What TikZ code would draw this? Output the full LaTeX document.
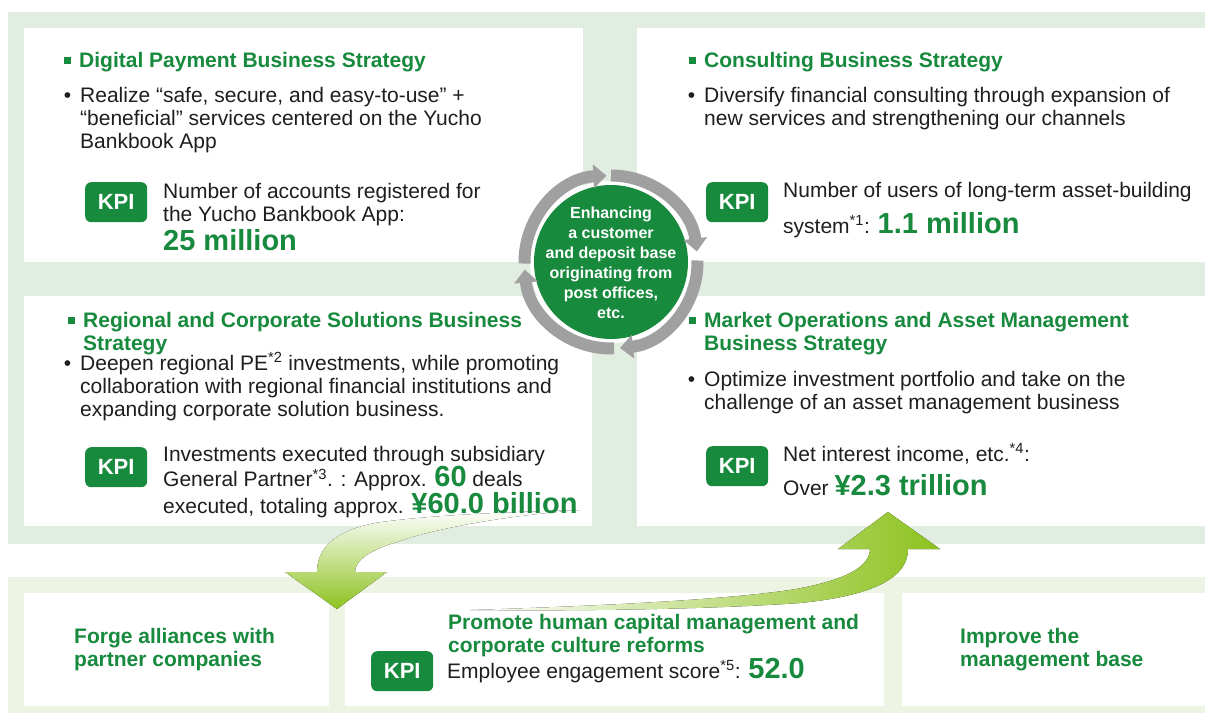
\documentclass[tikz,border=0pt]{standalone}
\usepackage{fontspec}
\setmainfont{Liberation Sans}
\usetikzlibrary{arrows.meta}

\definecolor{kgreen}{RGB}{24,138,62}
\definecolor{agreen}{RGB}{141,194,31}
\definecolor{bgtop}{RGB}{226,237,225}
\definecolor{bgbot}{RGB}{238,244,228}
\definecolor{ringgray}{RGB}{160,160,160}
\definecolor{txt}{RGB}{30,30,30}

\newcommand{\bignum}[1]{{\color{kgreen}\bfseries\fontsize{29}{29}\selectfont #1}}
\newcommand{\sqbul}{\llap{\rule[3pt]{7pt}{7pt}\hspace{8pt}}}
\newcommand{\dotbul}{\llap{•\hspace{9pt}}}

\begin{document}
\begin{tikzpicture}[x=1pt,y=-1pt,
    panel/.style={fill=white, inner sep=0pt, anchor=north west},
    kpi/.style={fill=kgreen, rounded corners=6pt, text=white,
      font=\bfseries\fontsize{22}{24}\selectfont,
      minimum width=62pt, minimum height=40pt, inner sep=0pt, anchor=north west},
    head/.style={text=kgreen, font=\bfseries\fontsize{21}{23}\selectfont,
      align=left, anchor=base west, inner sep=0pt},
    body/.style={text=txt, font=\fontsize{21}{23}\selectfont,
      align=left, anchor=base west, inner sep=0pt},
    hubtxt/.style={text=white, font=\bfseries\fontsize{16}{20}\selectfont,
      align=center, inner sep=0pt},
    ring/.style={draw=ringgray, line width=12pt, -{Triangle[width=23pt,length=13pt]}},
    arrowA/.style={top color=white, middle color=agreen!55, bottom color=agreen},
    arrowB/.style={left color=white, middle color=agreen!35, right color=agreen}]
\useasboundingbox (0,0) rectangle (1205,713);
\fill[white] (0,0) rectangle (1205,713);
% backgrounds
\fill[bgtop] (8,12) rectangle (1205,544);
\fill[bgbot] (8,577) rectangle (1205,713);
% panels
\node[panel, minimum width=559pt, minimum height=234pt] (pay) at (24,28) {};
\node[panel, minimum width=568pt, minimum height=234pt] (cons) at (637,28) {};
\node[panel, minimum width=568pt, minimum height=230pt] (reg) at (24,296) {};
\node[panel, minimum width=568pt, minimum height=230pt] (mkt) at (637,296) {};
\node[panel, minimum width=305pt, minimum height=113pt] (ally) at (24,593) {};
\node[panel, minimum width=539pt, minimum height=113pt] (hum) at (345,593) {};
\node[panel, minimum width=303pt, minimum height=113pt] (base) at (902,593) {};

% flow arrows
\fill[arrowA] (580,510) .. controls (500,512) and (420,516) .. (375,523)
  .. controls (335,531) and (317,548) .. (317,572) -- (285,572) -- (337,609)
  -- (387,572) -- (355,572) .. controls (355,560) and (370,550) .. (400,541)
  .. controls (430,530) and (500,516) .. (580,510) -- cycle;
\fill[arrowB] (470,610) .. controls (600,606) and (720,600) .. (790,590)
  .. controls (850,580) and (870,565) .. (870,549) -- (838,549) -- (888,512)
  -- (940,549) -- (908,549) .. controls (908,575) and (880,595) .. (800,603)
  .. controls (700,610) and (560,611) .. (470,610) -- cycle;

% hub
\fill[white] (611,262) circle[radius=81];
\fill[kgreen] (611,262) circle[radius=77];
\foreach \s/\e in {-90/-7, -1/84, 88/175, 179/267}
  \draw[ring] (611,262) ++(\s:86.5) arc[start angle=\s, end angle=\e, radius=86.5];
\node[hubtxt] (hubt) at (611,263) {Enhancing\\a customer\\and deposit base\\originating from\\post offices,\\etc.};

% digital payment (anchors sit on the last line)
\node[head] (payt) at (79,67) {\sqbul Digital Payment Business Strategy};
\node[body] (payb) at (80,148) {\dotbul Realize “safe, secure, and easy-to-use” +\\“beneficial” services centered on the Yucho\\Bankbook App};
\node[kpi] (payk) at (85,182) {KPI};
\node[body] (payv) at (163,250) {Number of accounts registered for\\the Yucho Bankbook App:\\[2pt]\bignum{25 million}};

% consulting
\node[head] (const) at (704,67) {\sqbul Consulting Business Strategy};
\node[body] (consb) at (704,125) {\dotbul Diversify financial consulting through expansion of\\new services and strengthening our channels};
\node[kpi] (consk) at (706,182) {KPI};
\node[body] (consv) at (783,233) {Number of users of long-term asset-building\\[9pt]system\textsuperscript{*1}: \bignum{1.1 million}};

% regional
\node[head] (regt) at (83,350) {\sqbul Regional and Corporate Solutions Business\\Strategy};
\node[body] (regb) at (80,416) {\dotbul Deepen regional PE\textsuperscript{*2} investments, while promoting\\collaboration with regional financial institutions and\\expanding corporate solution business.};
\node[kpi] (regk) at (85,447) {KPI};
\node[body] (regv) at (163,513) {Investments executed through subsidiary\\General Partner\textsuperscript{*3}. : Approx. \bignum{60} deals\\executed, totaling approx. \bignum{¥60.0 billion}};

% market
\node[head] (mktt) at (704,350) {\sqbul Market Operations and Asset Management\\Business Strategy};
\node[body] (mktb) at (704,409) {\dotbul Optimize investment portfolio and take on the\\challenge of an asset management business};
\node[kpi] (mktk) at (706,446) {KPI};
\node[body] (mktv) at (783,495) {Net interest income, etc.\textsuperscript{*4}:\\[9pt]Over \bignum{¥2.3 trillion}};

% foundation
\node[head] (allyt) at (74,666) {Forge alliances with\\partner companies};
\node[head] (humt) at (448,652) {Promote human capital management and\\corporate culture reforms};
\node[kpi] (humk) at (371,651) {KPI};
\node[body] (humv) at (447,678) {Employee engagement score\textsuperscript{*5}: \bignum{52.0}};
\node[head] (baset) at (960,666) {Improve the\\management base};
\end{tikzpicture}
\end{document}
